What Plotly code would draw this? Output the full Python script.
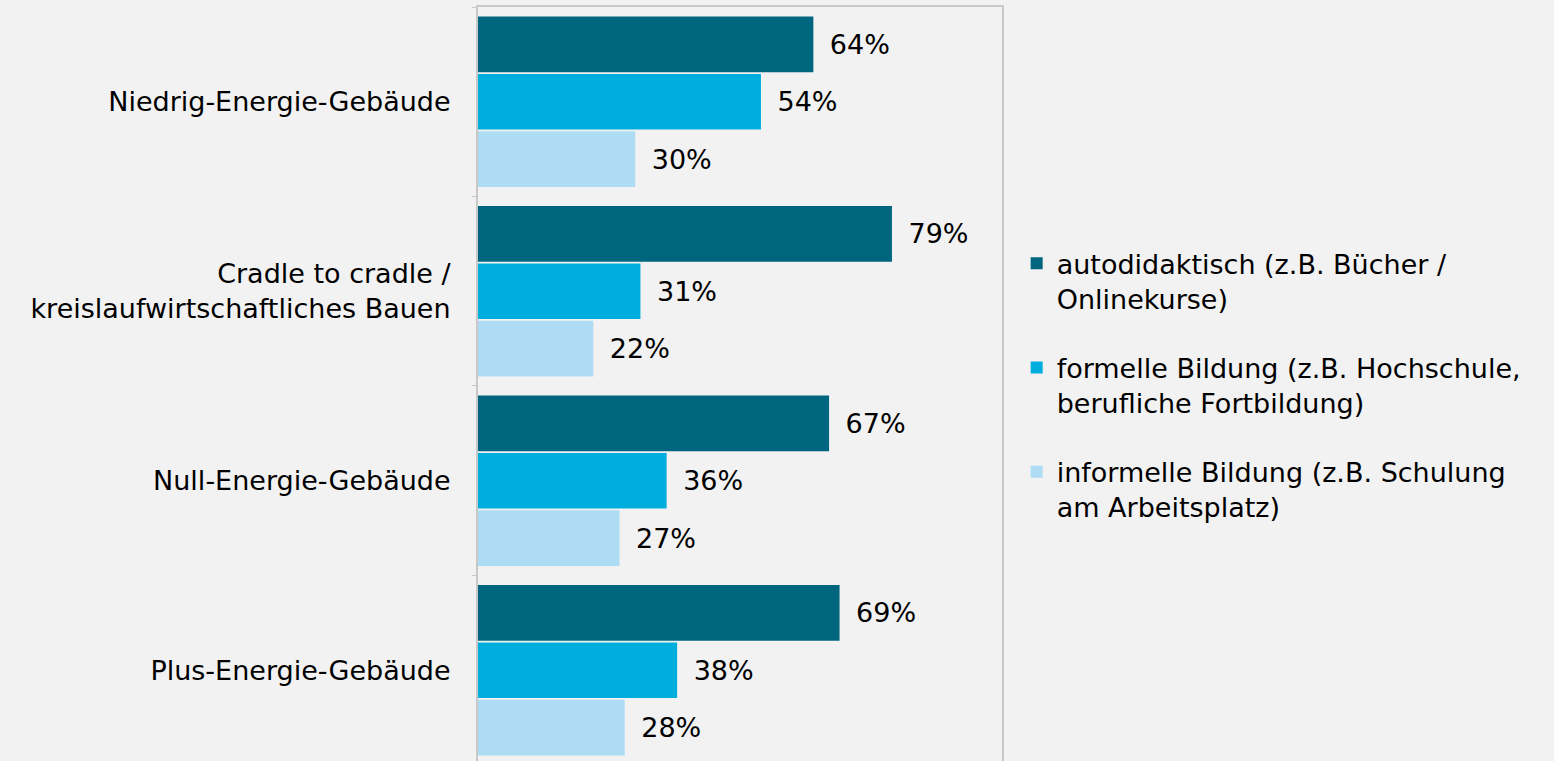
import plotly.graph_objects as go

# Data
categories = [
    "Niedrig-Energie-Gebäude",
    "Cradle to cradle /<br>kreislaufwirtschaftliches Bauen",
    "Null-Energie-Gebäude",
    "Plus-Energie-Gebäude",
]
series_names = [
    "autodidaktisch (z.B. Bücher /<br>Onlinekurse)",
    "formelle Bildung (z.B. Hochschule,<br>berufliche Fortbildung)",
    "informelle Bildung (z.B. Schulung<br>am Arbeitsplatz)",
]
autodidaktisch = [64, 79, 67, 69]
formelle = [54, 31, 36, 38]
informelle = [30, 22, 27, 28]

colors = ["#00667F", "#00AEDE", "#AEDCF5"]
font = "DejaVu Sans"

fig = go.Figure()
for i, (name, vals) in enumerate(zip(series_names, [autodidaktisch, formelle, informelle])):
    fig.add_trace(go.Bar(
        y=categories,
        x=vals,
        orientation="h",
        name=name,
        legendgroup=str(i),
        marker=dict(color=colors[i], line=dict(width=0)),
        texttemplate="\u2002%{x}%",
        textposition="outside",
        textfont=dict(family=font, size=27, color="#000000"),
        cliponaxis=False,
        hoverinfo="skip",
    ))

fig.update_layout(
    width=1554,
    height=761,
    margin=dict(l=478, r=552, t=7, b=0, pad=0),
    paper_bgcolor="#F2F2F2",
    plot_bgcolor="#F2F2F2",
    barmode="group",
    bargap=0.092,
    bargroupgap=0.03,
    font=dict(family=font, size=27, color="#000000"),
    xaxis=dict(
        range=[0, 100],
        side="top",
        showline=True,
        linecolor="#C8C8C8",
        linewidth=2,
        showgrid=False,
        zeroline=False,
        showticklabels=False,
        ticks="",
    ),
    yaxis=dict(
        range=[3.479, -0.5],
        showline=True,
        mirror=True,
        linecolor="#C8C8C8",
        linewidth=2,
        showgrid=False,
        ticks="outside",
        tickson="boundaries",
        ticklen=4,
        tickcolor="#C8C8C8",
        ticklabelstandoff=20,
        tickfont=dict(family=font, size=27, color="#000000"),
    ),
    legend=dict(
        x=1.028,
        y=0.692,
        xanchor="left",
        yanchor="top",
        valign="top",
        tracegroupgap=31,
        itemwidth=30,
        bgcolor="rgba(0,0,0,0)",
        font=dict(family=font, size=27, color="#000000"),
    ),
    showlegend=True,
)

# remove the page margin so the figure fills the window
fig.write_html(
    "out.html",
    config={"displayModeBar": False},
    post_script="document.body.style.margin='0';document.body.style.background='#F2F2F2';",
)
